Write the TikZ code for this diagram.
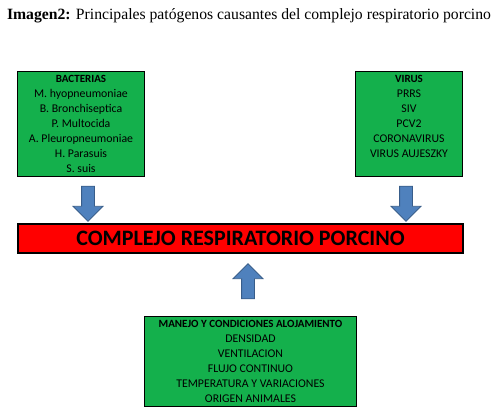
\documentclass[tikz,border=0pt]{standalone}
\usepackage{fontspec}
\setmainfont{Liberation Serif}
\newfontfamily\calibri{Carlito}
\usepackage{tikz}
\usetikzlibrary{shapes.arrows, positioning}
\definecolor{boxgreen}{RGB}{20,176,76}
\definecolor{arrowblue}{RGB}{79,129,189}
\definecolor{arrowedge}{RGB}{56,93,138}
\tikzstyle{group} = [rectangle, draw=black, line width=1.2pt, fill=boxgreen, align=center, inner sep=0pt, font=\calibri\fontsize{11.8}{15}\selectfont]
\tikzstyle{result} = [rectangle, draw=black, line width=2pt, fill=red, minimum width=445pt, minimum height=29pt, inner sep=0pt, font=\calibri\bfseries\fontsize{22}{24}\selectfont]
\tikzstyle{bigarrow} = [single arrow, draw=arrowedge, line width=0.8pt, fill=arrowblue, inner xsep=0pt, inner ysep=6pt, minimum height=35pt, single arrow head extend=8.5pt]
\newcommand{\head}[1]{{\bfseries\fontsize{11}{15}\selectfont #1}}

\begin{document}
\begin{tikzpicture}[x=1pt, y=-1pt]
	\useasboundingbox (0,0) rectangle (501,411);

	\node (title) [anchor=base west, font=\fontsize{15.7}{18}\selectfont] at (3.5,20) {\textbf{Imagen2:} Principales patógenos causantes del complejo respiratorio porcino};

	\node (bact) [group, minimum width=127pt, minimum height=105pt] at (81,124) {\head{BACTERIAS}\\M. hyopneumoniae\\B. Bronchiseptica\\P. Multocida\\A. Pleuropneumoniae\\H. Parasuis\\S. suis};
	\node (virus) [group, minimum width=107pt, minimum height=105pt] at (409,124) {\head{VIRUS}\\PRRS\\SIV\\PCV2\\CORONAVIRUS\\VIRUS AUJESZKY\\\mbox{}};
	\node (crp) [result] at (240.5,238.5) {COMPLEJO RESPIRATORIO PORCINO};
	\node (manejo) [group, minimum width=212pt, minimum height=90pt] at (250.5,361.5) {\head{MANEJO Y CONDICIONES ALOJAMIENTO}\\DENSIDAD\\VENTILACION\\FLUJO CONTINUO\\TEMPERATURA Y VARIACIONES\\ORIGEN ANIMALES};

	\node (arrbact) [bigarrow, rotate=-90] at (88,200.5) {};
	\node (arrvirus) [bigarrow, rotate=-90] at (406,200.5) {};
	\node (arrmanejo) [bigarrow, rotate=90] at (248,284.5) {};

\end{tikzpicture}
\end{document}
